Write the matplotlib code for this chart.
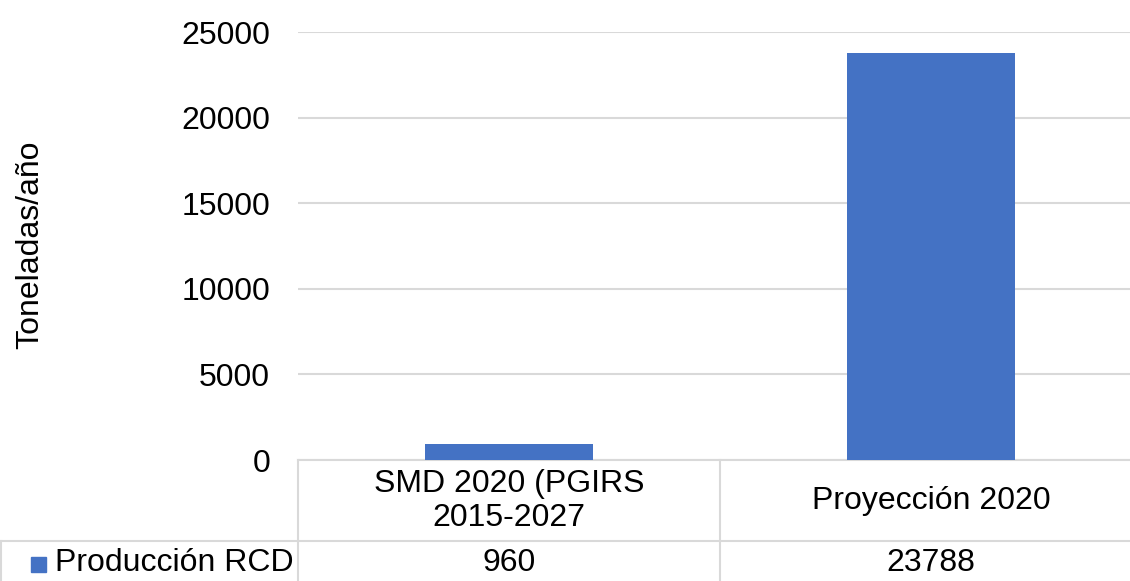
import matplotlib.pyplot as plt
from matplotlib.lines import Line2D
from matplotlib.transforms import blended_transform_factory

categories = ["SMD 2020 (PGIRS\n2015-2027", "Proyección 2020"]
values = [960, 23788]
series_name = "Producción RCD"
yticks = [0, 5000, 10000, 15000, 20000, 25000]

plt.rcParams["font.family"] = ["Liberation Sans", "DejaVu Sans"]
bar_color = "#4472C4"
grid_color = "#d9d9d9"
fs = 23

W, H = 1130, 581
fig = plt.figure(figsize=(W / 100, H / 100), dpi=100)
ax = fig.add_axes([298 / W, 1 - 460 / H, 844 / W, 428 / H])

x = list(range(len(categories)))
ax.bar(x, values, width=0.4, color=bar_color, zorder=3)
ax.set_xlim(-0.5, len(categories) - 0.5)
ax.set_ylim(0, 25000)
ax.set_yticks(yticks)
ax.set_yticklabels([str(t) for t in yticks], fontsize=fs)
ax.tick_params(axis="y", length=0, pad=20)
ax.set_xticks([])
ax.yaxis.grid(True, color=grid_color, linewidth=1.5, zorder=0)
for s in ["top", "right", "left"]:
    ax.spines[s].set_visible(False)
ax.spines["bottom"].set_color(grid_color)
ax.spines["bottom"].set_linewidth(1.5)

fig.text(30 / W, 1 - 245 / H, "Toneladas/año", rotation=90,
         ha="center", va="center", fontsize=fs)

# data table under the axis
tr = blended_transform_factory(ax.transData, fig.transFigure)
row_y = 1 - 541 / H
for xv in [-0.5, 0.5, 1.5]:
    fig.add_artist(Line2D([xv, xv], [0, 1 - 460 / H], transform=tr,
                          color=grid_color, linewidth=1.5))
fig.add_artist(Line2D([0, 1], [row_y, row_y], transform=fig.transFigure,
                      color=grid_color, linewidth=1.5))
fig.add_artist(Line2D([1 / W, 1 / W], [0, row_y], transform=fig.transFigure,
                      color=grid_color, linewidth=1.5))

for xi, cat, v in zip(x, categories, values):
    fig.text(xi, 1 - 501 / H, cat, transform=tr, ha="center", va="center",
             fontsize=fs, linespacing=1.2)
    fig.text(xi, 1 - 563 / H, str(v), transform=tr, ha="center",
             va="center", fontsize=fs)

fig.patches.append(plt.Rectangle((31 / W, 1 - 572 / H), 15 / W, 15 / H,
                                 transform=fig.transFigure,
                                 color=bar_color))
fig.text(55 / W, 1 - 563 / H, series_name, ha="left", va="center",
         fontsize=fs)

fig.savefig("out.png", dpi=100)
